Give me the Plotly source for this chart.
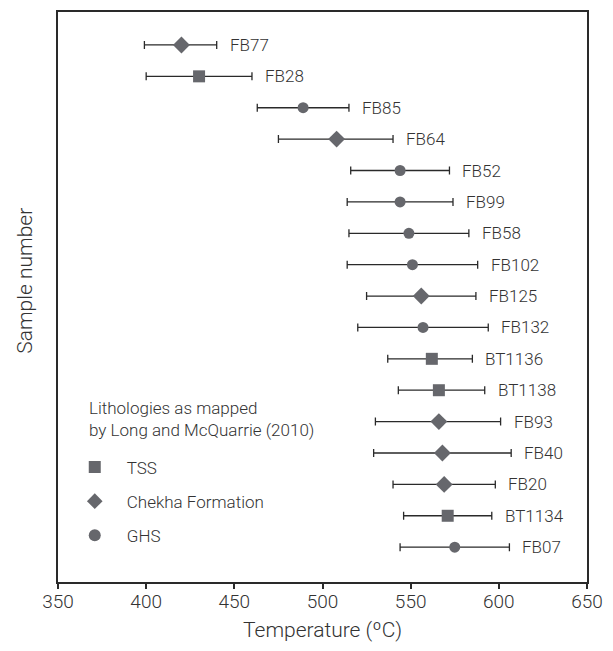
import plotly.graph_objects as go

samples = ["FB77", "FB28", "FB85", "FB64", "FB52", "FB99", "FB58", "FB102", "FB125",
           "FB132", "BT1136", "BT1138", "FB93", "FB40", "FB20", "BT1134", "FB07"]
temps = [420, 430, 489, 508, 544, 544, 549, 551, 556, 557, 562, 566, 566, 568, 569, 571, 575]
err_minus = [21, 30, 26, 33, 28, 30, 34, 37, 31, 37, 25, 23, 36, 39, 29, 25, 31]
err_plus = [20, 30, 26, 32, 28, 30, 34, 37, 31, 37, 23, 26, 35, 39, 29, 25, 31]
lithology = ["Chekha Formation", "TSS", "GHS", "Chekha Formation", "GHS", "GHS", "GHS", "GHS",
             "Chekha Formation", "GHS", "TSS", "TSS", "Chekha Formation", "Chekha Formation",
             "Chekha Formation", "TSS", "GHS"]
x_ticks = [350, 400, 450, 500, 550, 600, 650]

groups = ["TSS", "Chekha Formation", "GHS"]
symbols = {"TSS": "square", "Chekha Formation": "diamond", "GHS": "circle"}
sizes = {"TSS": 12, "Chekha Formation": 13, "GHS": 11}

FONT = "Roboto"
TXT = "#333333"
MARK = "#66676c"

fig = go.Figure()
for gi, g in enumerate(groups):
    idx = [i for i, l in enumerate(lithology) if l == g]
    fig.add_trace(go.Scatter(
        x=[temps[i] for i in idx],
        y=[samples[i] for i in idx],
        mode="markers",
        name=g,
        legendgroup=g,
        marker=dict(symbol=symbols[g], size=sizes[g], color=MARK, line=dict(width=0)),
        error_x=dict(type="data", symmetric=False,
                     array=[err_plus[i] for i in idx],
                     arrayminus=[err_minus[i] for i in idx],
                     color="#2a2a2a", thickness=1.3, width=4),
    ))

for s, t, p in zip(samples, temps, err_plus):
    fig.add_annotation(x=t + p, y=s, text=s, showarrow=False, xanchor="left",
                       xshift=11, font=dict(family=FONT, size=17, color=TXT, weight=300))

fig.add_annotation(xref="paper", yref="paper", x=0.0557, y=0.327, xanchor="left", yanchor="top",
                   text="Lithologies as mapped<br>by Long and McQuarrie (2010)", showarrow=False,
                   align="left", font=dict(family=FONT, size=17, color=TXT, weight=300))

fig.add_annotation(xref="paper", yref="paper", x=-0.063, y=0.528, xanchor="center", yanchor="middle",
                   text="Sample number", textangle=-90, showarrow=False,
                   font=dict(family=FONT, size=21, color=TXT, weight=300))

fig.update_layout(
    width=613, height=651,
    margin=dict(l=58, r=16, t=10, b=69),
    paper_bgcolor="white", plot_bgcolor="white",
    font=dict(family=FONT, color=TXT, weight=300),
    showlegend=True,
    legend=dict(
        x=0.009, y=0.2325, xanchor="left", yanchor="top",
        font=dict(family=FONT, size=17, color=TXT, weight=300),
        tracegroupgap=9, bgcolor="rgba(0,0,0,0)", itemsizing="constant", itemwidth=54,
    ),
    xaxis=dict(
        range=[350, 650], tickvals=x_ticks, ticks="outside", ticklen=5, tickwidth=1.5,
        tickcolor="#2a2a2a", showline=True, linecolor="#2a2a2a", linewidth=1.5, mirror=True,
        showgrid=False, zeroline=False, ticklabelstandoff=-4,
        tickfont=dict(family=FONT, size=19, color=TXT, weight=300),
        title=dict(text="Temperature (ºC)", font=dict(family=FONT, size=21, color=TXT, weight=300),
                   standoff=11),
    ),
    yaxis=dict(
        categoryorder="array", categoryarray=samples,
        range=[17.11, -1.05], showticklabels=False, ticks="",
        showline=True, linecolor="#2a2a2a", linewidth=1.5, mirror=True,
        showgrid=False, zeroline=False,
    ),
)

fig.write_html("out.html")
